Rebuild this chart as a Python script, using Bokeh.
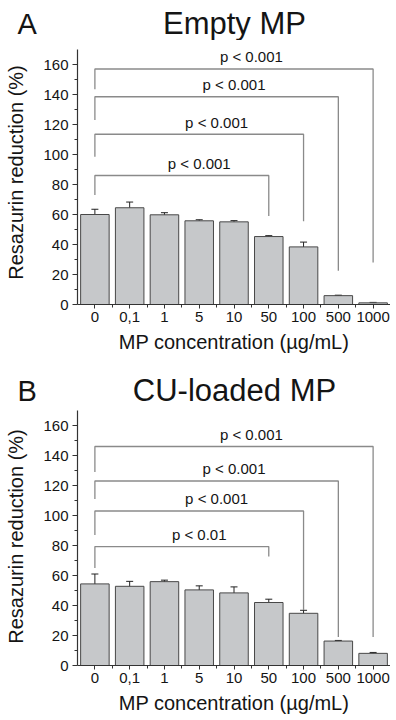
from bokeh.plotting import figure
from bokeh.models import ColumnDataSource, Whisker, TeeHead, FixedTicker, Range1d
from bokeh.layouts import column, row
from bokeh.embed import file_html
from bokeh.resources import INLINE
from bokeh.core.properties import value

# ---------------- data ----------------
categories = ["0", "0,1", "1", "5", "10", "50", "100", "500", "1000"]

empty_mean = [60.0, 64.5, 59.8, 55.8, 55.1, 45.3, 38.4, 5.9, 1.1]
empty_err = [3.5, 3.8, 1.4, 0.7, 0.8, 0.6, 3.2, 0.3, 0.3]

cu_mean = [54.4, 52.8, 55.9, 50.4, 48.4, 42.0, 34.8, 16.3, 8.1]
cu_err = [6.6, 3.3, 1.0, 2.7, 4.0, 2.2, 2.0, 0.4, 0.6]

# significance brackets (from category 0 to category index in *_right)
empty_br_right = [5, 6, 7, 8]
empty_br_level = [86.0, 113.5, 138.5, 157.0]
empty_br_left_end = [73.0, 98.5, 123.0, 143.5]
empty_br_right_end = [59.0, 55.5, 22.5, 28.0]
empty_br_text = ["p < 0.001", "p < 0.001", "p < 0.001", "p < 0.001"]

cu_br_right = [5, 6, 7, 8]
cu_br_level = [79.3, 103.0, 123.0, 146.0]
cu_br_left_end = [65.0, 87.0, 111.0, 129.0]
cu_br_right_end = [72.6, 37.0, 19.0, 19.0]
cu_br_text = ["p < 0.01", "p < 0.001", "p < 0.001", "p < 0.001"]

panel_letters = ["A", "B"]
panel_titles = ["Empty MP", "CU-loaded MP"]

y_ticks = [0, 20, 40, 60, 80, 100, 120, 140, 160]
y_minor = [10, 30, 50, 70, 90, 110, 130, 150]
y_axis_top = 170

FONT = "Liberation Sans"
TXT = "#141414"
W = 390
LEFT = 77


def bare(width, height, x0, x1):
    s = figure(width=width, height=height, output_backend="svg",
               toolbar_location=None, x_range=Range1d(x0, x1),
               y_range=Range1d(0, height), x_axis_type=None,
               y_axis_type=None, min_border_left=0, min_border_right=0,
               min_border_top=0, min_border_bottom=0)
    s.outline_line_color = None
    s.grid.visible = False
    return s


def make_strip(letter, title, height, center):
    a = bare(LEFT, height, 0, LEFT)
    a.text(x=[17], y=[center], text=[letter], text_align="left",
           text_baseline="middle", text_font=value(FONT),
           text_font_size="29px", text_color=TXT)
    t = bare(W - LEFT, height, LEFT, W)
    t.text(x=[234], y=[center], text=[title], text_align="center",
           text_baseline="middle", text_font=value(FONT),
           text_font_size="31px", text_color=TXT)
    return row(a, t, spacing=0)


def make_panel(mean, err, br_right, br_level, br_left_end, br_right_end,
               br_text, height, ytop, bottom_border):
    p = figure(width=W, height=height, output_backend="svg",
               toolbar_location=None, x_range=Range1d(-0.5, 8.5),
               y_range=Range1d(0, ytop), min_border_left=LEFT,
               min_border_right=0, min_border_top=0,
               min_border_bottom=bottom_border)
    p.outline_line_color = None
    p.grid.visible = False

    idx = list(range(len(categories)))
    src = ColumnDataSource(dict(
        x=idx, top=mean,
        upper=[m + e for m, e in zip(mean, err)],
        lower=[m - e for m, e in zip(mean, err)],
    ))
    p.vbar(x="x", top="top", width=0.82, source=src, fill_color="#c6c8ca",
           line_color="#484848", line_width=1)
    w = Whisker(base="x", upper="upper", lower="lower", source=src,
                line_color="#222222", line_width=1,
                upper_head=TeeHead(size=7, line_color="#222222", line_width=1),
                lower_head=TeeHead(size=7, line_color="#222222", line_width=1))
    p.add_layout(w)

    # brackets
    xs, ys = [], []
    for r, lv, le, re in zip(br_right, br_level, br_left_end, br_right_end):
        xs.append([0, 0, r, r])
        ys.append([le, lv, lv, re])
    p.multi_line(xs=xs, ys=ys, line_color="#8a8a8a", line_width=1.3)
    p.text(x=[r / 2 + 0.5 for r in br_right], y=[lv + 2.5 for lv in br_level],
           text=br_text, text_align="center", text_baseline="bottom",
           text_font=value(FONT), text_font_size="15px", text_color=TXT)

    # axes
    p.xaxis.ticker = FixedTicker(ticks=idx,
                                 minor_ticks=[i - 0.5 for i in idx[1:]])
    p.xaxis.major_label_overrides = {i: c for i, c in zip(idx, categories)}
    p.yaxis.ticker = FixedTicker(ticks=y_ticks, minor_ticks=y_minor)
    p.yaxis.bounds = (0, y_axis_top)
    p.xaxis.axis_label = "MP concentration (µg/mL)"
    p.yaxis.axis_label = "Resazurin reduction (%)"
    for ax in (p.xaxis[0], p.yaxis[0]):
        ax.axis_line_color = "#333333"
        ax.axis_line_width = 1.2
        ax.major_tick_line_color = "#333333"
        ax.major_tick_in = 0
        ax.major_tick_out = 5
        ax.minor_tick_line_color = "#333333"
        ax.minor_tick_in = 0
        ax.minor_tick_out = 3
        ax.major_label_text_font = FONT
        ax.major_label_text_font_size = "15px"
        ax.major_label_text_color = TXT
        ax.axis_label_text_font = FONT
        ax.axis_label_text_font_size = "20px"
        ax.axis_label_text_font_style = "normal"
        ax.axis_label_text_color = TXT
        ax.major_label_standoff = 4
    p.xaxis.major_tick_out = 4
    p.xaxis.major_label_standoff = 3
    p.xaxis.axis_label_standoff = 6
    p.yaxis.axis_label_standoff = 13
    return p


stripA = make_strip(panel_letters[0], panel_titles[0], height=40, center=17)
pA = make_panel(empty_mean, empty_err, empty_br_right, empty_br_level,
                empty_br_left_end, empty_br_right_end, empty_br_text,
                height=324, ytop=176, bottom_border=60)
stripB = make_strip(panel_letters[1], panel_titles[1], height=43, center=17)
pB = make_panel(cu_mean, cu_err, cu_br_right, cu_br_level,
                cu_br_left_end, cu_br_right_end, cu_br_text,
                height=311, ytop=172, bottom_border=53)

layout = column(stripA, pA, stripB, pB, spacing=0)
open("out.html", "w").write(file_html(layout, INLINE))
